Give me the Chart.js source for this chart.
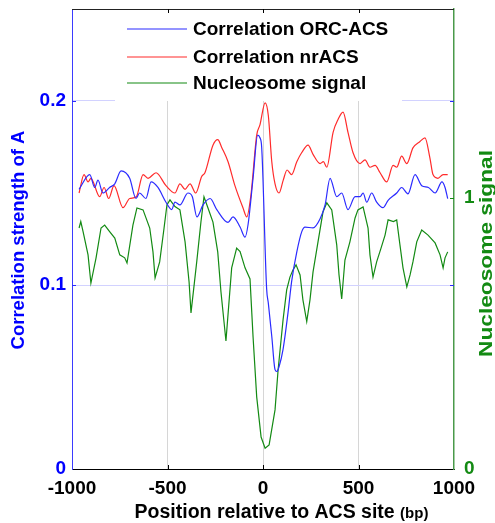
<!DOCTYPE html>
<html>
<head>
<meta charset="utf-8">
<script src="https://cdn.jsdelivr.net/npm/chart.js@4/dist/chart.umd.min.js"></script>
<style>
  body { margin: 0; background: #fff; }
  #wrap { width: 495px; height: 523px; }
</style>
</head>
<body>
<div id="wrap"><canvas id="acsChart" width="495" height="523"></canvas></div>
<script>
// データ
const xTicks = [-1000, -500, 0, 500, 1000];
const leftTicks = [0, 0.1, 0.2];
const rightTicks = [0, 1];
const seriesNames = ['Correlation ORC-ACS', 'Correlation nrACS', 'Nucleosome signal'];

// Correlation ORC-ACS (左軸)
const posOrc = [-963,-907,-881,-864,-838,-803,-776,-743,-698,-665,-646,-613,-586,-550,-508,-478,-461,-435,-393,-370,-346,-314,-277,-242,-183,-157,-120,-94,-78,-52,-28,-16,-7,19,28,46,63,72,84,105,131,150,177,203,220,262,299,325,351,386,412,445,482,508,524,543,569,595,628,655,700,726,759,796,831,866,901,937,953,967];
const valOrc = [0.152,0.160,0.153,0.157,0.150,0.153,0.155,0.162,0.158,0.147,0.150,0.147,0.156,0.153,0.145,0.141,0.145,0.1435,0.150,0.148,0.137,0.1435,0.147,0.141,0.134,0.137,0.1315,0.126,0.133,0.158,0.1815,0.180,0.175,0.098,0.090,0.072,0.054,0.053,0.0556,0.065,0.085,0.102,0.118,0.129,0.1315,0.131,0.136,0.1435,0.158,0.148,0.150,0.141,0.148,0.148,0.150,0.145,0.150,0.145,0.142,0.146,0.150,0.153,0.1495,0.160,0.154,0.153,0.150,0.156,0.153,0.147];

// Correlation nrACS (左軸)
const posNr = [-963,-937,-916,-901,-855,-832,-808,-780,-733,-698,-663,-628,-602,-560,-508,-461,-435,-408,-382,-352,-321,-304,-262,-237,-215,-183,-147,-105,-85,-63,-33,-16,11,28,46,63,84,106,126,150,177,203,236,262,299,316,334,367,393,419,445,471,508,534,560,587,613,648,681,700,726,753,785,822,848,874,890,916,943,967];
const valNr = [0.150,0.160,0.156,0.158,0.148,0.153,0.147,0.154,0.142,0.147,0.148,0.160,0.158,0.161,0.154,0.150,0.155,0.152,0.155,0.150,0.159,0.161,0.176,0.179,0.1745,0.167,0.154,0.142,0.137,0.149,0.1815,0.187,0.199,0.192,0.167,0.155,0.150,0.157,0.1625,0.160,0.167,0.172,0.176,0.171,0.166,0.167,0.164,0.183,0.190,0.194,0.183,0.172,0.166,0.168,0.164,0.165,0.161,0.156,0.165,0.164,0.170,0.166,0.1745,0.178,0.180,0.169,0.160,0.158,0.160,0.160];

// Nucleosome signal (右軸)
const posNuc = [-963,-954,-942,-916,-901,-874,-848,-829,-803,-776,-750,-724,-712,-681,-660,-628,-593,-576,-565,-541,-518,-503,-487,-461,-435,-408,-387,-377,-347,-325,-309,-288,-262,-237,-220,-194,-164,-138,-120,-94,-68,-52,-33,-10,11,32,63,79,105,124,141,157,173,194,209,229,246,262,288,314,334,360,386,398,412,429,455,482,497,524,550,560,576,595,618,639,655,683,700,717,733,753,770,785,805,831,864,901,927,943,953,967];
const valNuc = [0.889,0.913,0.876,0.790,0.686,0.779,0.889,0.900,0.876,0.852,0.790,0.779,0.760,0.900,0.963,0.956,0.889,0.801,0.705,0.764,0.889,0.974,0.993,0.968,0.956,0.838,0.690,0.576,0.764,0.911,1.004,0.963,0.911,0.801,0.653,0.472,0.742,0.815,0.802,0.742,0.701,0.487,0.266,0.118,0.077,0.089,0.218,0.365,0.550,0.661,0.708,0.734,0.753,0.716,0.624,0.544,0.624,0.727,0.838,0.948,0.982,0.956,0.827,0.716,0.627,0.771,0.838,0.926,0.956,0.967,0.889,0.790,0.708,0.764,0.815,0.863,0.919,0.913,0.919,0.827,0.742,0.672,0.716,0.764,0.838,0.882,0.863,0.834,0.790,0.742,0.779,0.801];

const BLUE = '#2b2bff';
const RED = '#ff2b2b';
const GREEN = '#138a13';
const FONT = '"Liberation Sans", Arial, sans-serif';

function toPoints(xs, ys){
  const out = [];
  for (var i = 0; i < xs.length; i++) out.push({x: xs[i], y: ys[i]});
  return out;
}

// 軸の余白を消してプロット領域を固定
function fixPad(s){
  s.paddingTop = 0; s.paddingBottom = 0;
  s.paddingLeft = 0; s.paddingRight = 0;
}

// 凡例・軸タイトル・内向きの目盛りを描く
const decor = {
  id: 'decor',
  afterDatasetsDraw(chart){
    const c = chart.ctx;
    const a = chart.chartArea;
    const sx = chart.scales.x, sy = chart.scales.y, sy1 = chart.scales.y1;
    c.save();

    // 凡例
    c.fillStyle = '#fff';
    c.fillRect(115, a.top + 1, 287, 91);
    const cols = [BLUE, RED, GREEN];
    const ys = [29, 57, 83];
    c.lineWidth = 1.2;
    c.font = 'bold 19px ' + FONT;
    c.textBaseline = 'middle';
    for (var i = 0; i < 3; i++){
      c.strokeStyle = cols[i];
      c.beginPath(); c.moveTo(127, ys[i]); c.lineTo(187, ys[i]); c.stroke();
      c.fillStyle = '#000';
      c.fillText(seriesNames[i], 193, ys[i] + 1);
    }

    // 上の枠線
    c.strokeStyle = '#222';
    c.lineWidth = 1;
    c.beginPath(); c.moveTo(a.left, a.top + 0.5); c.lineTo(a.right, a.top + 0.5); c.stroke();

    // 内向きの目盛り
    const tl = 4;
    [-500, 0, 500].forEach(function(v){
      const px = Math.round(sx.getPixelForValue(v)) + 0.5;
      c.strokeStyle = '#000';
      c.beginPath(); c.moveTo(px, a.bottom); c.lineTo(px, a.bottom - tl); c.stroke();
      c.beginPath(); c.moveTo(px, a.top); c.lineTo(px, a.top + tl); c.stroke();
    });
    [0.1, 0.2].forEach(function(v){
      const py = Math.round(sy.getPixelForValue(v)) + 0.5;
      c.strokeStyle = BLUE;
      c.beginPath(); c.moveTo(a.left, py); c.lineTo(a.left + tl, py); c.stroke();
      c.beginPath(); c.moveTo(a.right, py); c.lineTo(a.right - tl, py); c.stroke();
    });
    const p1 = Math.round(sy1.getPixelForValue(1)) + 0.5;
    c.strokeStyle = GREEN;
    c.beginPath(); c.moveTo(a.right, p1); c.lineTo(a.right - tl, p1); c.stroke();

    // 左の軸タイトル
    c.fillStyle = '#0000ff';
    c.font = 'bold 18.5px ' + FONT;
    c.textAlign = 'center';
    c.save();
    c.translate(18.5, 240);
    c.rotate(-Math.PI / 2);
    c.fillText('Correlation strength of A', 0, 0);
    c.restore();

    // 右の軸タイトル
    c.fillStyle = GREEN;
    c.font = 'bold 18px ' + FONT;
    c.save();
    c.translate(487.5, 253.5);
    c.rotate(-Math.PI / 2);
    const w = c.measureText('Nucleosome signal').width;
    c.scale(207 / w, 1);
    c.fillText('Nucleosome signal', 0, 0);
    c.restore();

    // x軸タイトル
    c.fillStyle = '#000';
    c.textAlign = 'left';
    c.textBaseline = 'alphabetic';
    const main = 'Position relative to ACS site ';
    const unit = '(bp)';
    c.font = 'bold 19.5px ' + FONT;
    const w1 = c.measureText(main).width;
    c.font = 'bold 15px ' + FONT;
    const w2 = c.measureText(unit).width;
    const x0 = 281.5 - (w1 + w2) / 2;
    c.font = 'bold 19.5px ' + FONT;
    c.fillText(main, x0, 518);
    c.font = 'bold 15px ' + FONT;
    c.fillText(unit, x0 + w1, 518);

    c.restore();
  }
};

let cfg = {
  type: 'line',
  data: {
    datasets: [{
      label: seriesNames[0],
      data: toPoints(posOrc, valOrc),
      yAxisID: 'y',
      borderColor: BLUE,
      borderWidth: 1.2,
      pointRadius: 0,
      cubicInterpolationMode: 'monotone',
    }, {
      label: seriesNames[1],
      data: toPoints(posNr, valNr),
      yAxisID: 'y',
      borderColor: RED,
      borderWidth: 1.2,
      pointRadius: 0,
      cubicInterpolationMode: 'monotone',
    }, {
      label: seriesNames[2],
      data: toPoints(posNuc, valNuc),
      yAxisID: 'y1',
      borderColor: GREEN,
      borderWidth: 1.2,
      pointRadius: 0,
      tension: 0,
    }],
  },
  options: {
    responsive: false,
    animation: false,
    layout: { padding: { top: 9, left: 0, right: 0, bottom: 0 } },
    plugins: {
      legend: { display: false },
      tooltip: { enabled: false },
    },
    scales: {
      x: {
        type: 'linear',
        min: -1000,
        max: 1000,
        afterBuildTicks: function(s){ s.ticks = xTicks.map(function(v){ return {value: v}; }); },
        afterFit: function(s){ s.height = 54; fixPad(s); },
        ticks: {
          color: '#000',
          padding: 8,
          maxRotation: 0,
          font: { family: FONT, size: 19, weight: 'bold' },
          callback: function(v){ return String(v); },
        },
        grid: {
          drawTicks: false,
          color: function(ctx){
            return (ctx.tick && Math.abs(ctx.tick.value) < 1000) ? '#d6d6d6' : 'rgba(0,0,0,0)';
          },
        },
        border: { color: '#000', width: 1 },
      },
      y: {
        position: 'left',
        min: 0,
        max: 0.25,
        afterBuildTicks: function(s){ s.ticks = leftTicks.map(function(v){ return {value: v}; }); },
        afterFit: function(s){ s.width = 72; fixPad(s); },
        ticks: {
          color: '#0000ff',
          padding: 6,
          font: { family: FONT, size: 19, weight: 'bold' },
          callback: function(v){ return String(v); },
        },
        grid: {
          drawTicks: false,
          color: function(ctx){
            return (ctx.tick && ctx.tick.value > 0) ? '#d2d2ff' : 'rgba(0,0,0,0)';
          },
        },
        border: { color: '#3b3bff', width: 1 },
      },
      y1: {
        position: 'right',
        min: 0,
        max: 1.697,
        afterBuildTicks: function(s){ s.ticks = rightTicks.map(function(v){ return {value: v}; }); },
        afterFit: function(s){ s.width = 41; fixPad(s); },
        ticks: {
          color: GREEN,
          padding: 10,
          font: { family: FONT, size: 19, weight: 'bold' },
          callback: function(v){ return String(v); },
        },
        grid: { display: false, drawTicks: false },
        border: { color: '#4a9a4a', width: 1.5 },
      },
    },
  },
  plugins: [decor],
};

let chart = new Chart(document.getElementById('acsChart'), cfg);
</script>
</body>
</html>
